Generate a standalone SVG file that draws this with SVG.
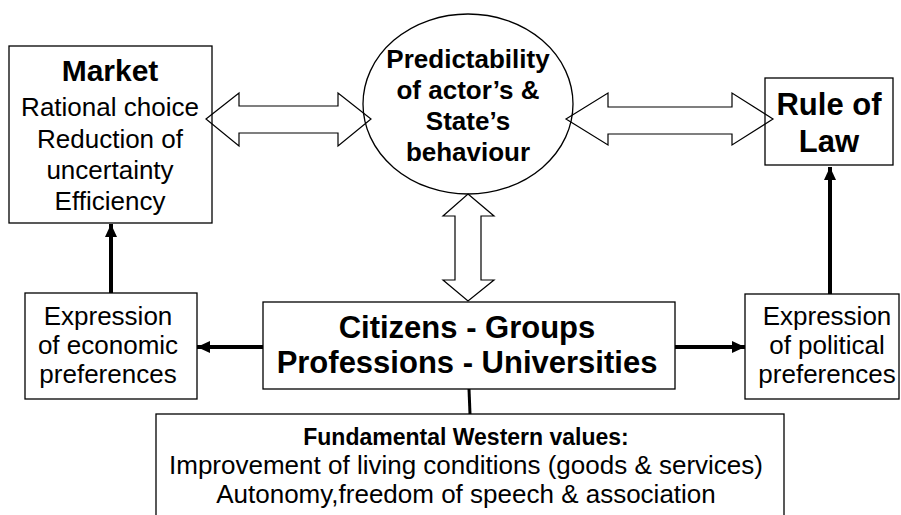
<svg xmlns="http://www.w3.org/2000/svg" width="901" height="515" viewBox="0 0 901 515">
<style>
.box{fill:none;stroke:#000;stroke-width:1.3}
.t{font-family:"Liberation Sans",Arial,sans-serif;fill:#000;text-anchor:middle}
.b{font-weight:bold}
.open{fill:none;stroke:#000;stroke-width:1.2;stroke-linejoin:miter}
.thick{stroke:#000;stroke-width:4;fill:none}
</style>
<defs>
<marker id="ah" markerUnits="userSpaceOnUse" markerWidth="14" markerHeight="14" viewBox="0 0 14 14" refX="13" refY="7" orient="auto">
<path d="M0,1 L13,7 L0,13 Z" fill="#000"/>
</marker>
</defs>
<rect width="901" height="515" fill="#fff"/>
<g id="connectors">
<polygon class="open" points="206,119 239,93 239,106 338,106 338,93 371,119 338,146 338,133 239,133 239,146"/>
<polygon class="open" points="566,119 608,93 608,107 732,107 732,93 773,119 732,145 732,134 608,134 608,145"/>
<polygon class="open" points="468,194 494,216 481,216 481,280 494,280 468,301 443,280 455,280 455,216 443,216"/>
<line class="thick" x1="111" y1="293" x2="111" y2="224" marker-end="url(#ah)"/>
<line class="thick" x1="830" y1="294" x2="830" y2="167" marker-end="url(#ah)"/>
<line class="thick" x1="263" y1="347" x2="197" y2="347" marker-end="url(#ah)"/>
<line class="thick" x1="675" y1="347" x2="745" y2="347" marker-end="url(#ah)"/>
<line x1="469" y1="389" x2="470" y2="414" stroke="#000" stroke-width="3"/>
</g>
<g id="market">
<rect class="box" x="9" y="46" width="203" height="177"/>
<text class="t b" x="110" y="81" font-size="30">Market</text>
<text class="t" x="110" y="116" font-size="26">Rational choice</text>
<text class="t" x="110" y="148" font-size="26">Reduction of</text>
<text class="t" x="110" y="179" font-size="26">uncertainty</text>
<text class="t" x="110" y="210" font-size="26">Efficiency</text>
</g>
<g id="predictability">
<ellipse class="box" cx="468" cy="104" rx="105" ry="90"/>
<text class="t b" x="468" y="68" font-size="26">Predictability</text>
<text class="t b" x="468" y="99" font-size="26">of actor’s &amp;</text>
<text class="t b" x="468" y="130" font-size="26">State’s</text>
<text class="t b" x="468" y="161" font-size="26">behaviour</text>
</g>
<g id="rule-of-law">
<rect class="box" x="765" y="78" width="128" height="87"/>
<text class="t b" x="829" y="115" font-size="31">Rule of</text>
<text class="t b" x="829" y="152" font-size="31">Law</text>
</g>
<g id="economic">
<rect class="box" x="25" y="293" width="172" height="106"/>
<text class="t" x="108" y="325" font-size="26">Expression</text>
<text class="t" x="108" y="354" font-size="26">of economic</text>
<text class="t" x="108" y="383" font-size="26">preferences</text>
</g>
<g id="citizens">
<rect class="box" x="263" y="302" width="412" height="87" stroke-width="1.5"/>
<text class="t b" x="467" y="338" font-size="31">Citizens - Groups</text>
<text class="t b" x="467" y="373" font-size="31">Professions - Universities</text>
</g>
<g id="political">
<rect class="box" x="745" y="294" width="154" height="105"/>
<text class="t" x="827" y="325" font-size="26">Expression</text>
<text class="t" x="827" y="354" font-size="26">of political</text>
<text class="t" x="827" y="383" font-size="26">preferences</text>
</g>
<g id="values">
<rect class="box" x="156" y="414" width="628" height="120"/>
<text class="t b" x="466" y="445" font-size="23">Fundamental Western values:</text>
<text class="t" x="466" y="474" font-size="26">Improvement of living conditions (goods &amp; services)</text>
<text class="t" x="466" y="503" font-size="26">Autonomy,freedom of speech &amp; association</text>
</g>
</svg>
